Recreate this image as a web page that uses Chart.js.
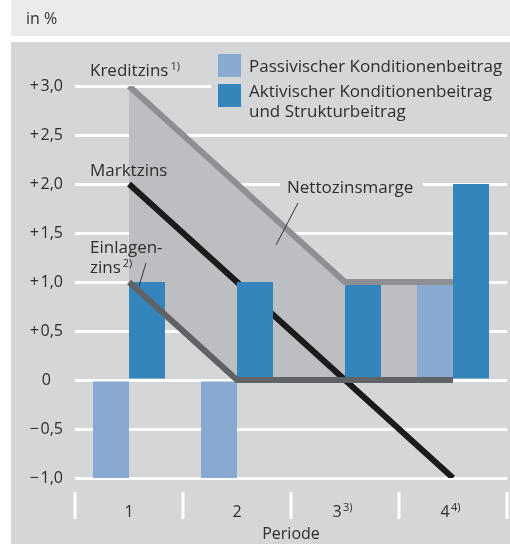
<!DOCTYPE html>
<html><head><meta charset="utf-8">
<script src="https://cdn.jsdelivr.net/npm/chart.js@4/dist/chart.umd.min.js"></script>
<style>html,body{margin:0;padding:0;background:#fff}canvas{display:block}</style>
</head><body>
<canvas id="c" width="510" height="544"></canvas>
<script>
// ---- data ----
const categories = ['1', '2', '3', '4'];
const xTickLabels = ['1', '2', '3\u2003', '4\u2003'];
const xTickNotes = ['', '', '3)', '4)'];
const passivValues = [-1, -1, 0, 1];
const aktivValues = [1, 1, 1, 2];
const kreditzins = [3, 2, 1, 1];
const marktzins = [2, 1, 0, -1];
const einlagenzins = [1, 0, 0, 0];
const yTickValues = [-1, -0.5, 0, 0.5, 1, 1.5, 2, 2.5, 3];
const yTickLabels = ['\u2212\u200a1,0', '\u2212\u200a0,5', '0', '+\u200a0,5', '+\u200a1,0', '+\u200a1,5', '+\u200a2,0', '+\u200a2,5', '+\u200a3,0'];

// ---- styles ----
const FONT = '"Open Sans", "Noto Sans", sans-serif';
const TEXT = '#2e2e2e';
const PANEL = '#d5d6d8';
const BAND = '#ebebed';
const LIGHT = '#88a9d0';
const DARK = '#3585bd';
const AREA = '#bdbec2';

function sup(ctx, base, note, x, y, size) {
  ctx.font = size + 'px ' + FONT;
  ctx.fillText(base, x, y);
  const w = ctx.measureText(base).width;
  ctx.font = '11px ' + FONT;
  ctx.fillText(note, x + w + 2, y - 6);
  ctx.font = size + 'px ' + FONT;
}

const deco = {
  id: 'deco',
  beforeDraw(chart) {
    const c = chart.ctx; c.save();
    c.fillStyle = '#ffffff'; c.fillRect(0, 0, 510, 544);
    c.fillStyle = BAND; c.fillRect(11, 0, 499, 36);
    c.fillStyle = PANEL; c.fillRect(11, 42, 499, 502);
    c.restore();
  },
  beforeDatasetsDraw(chart) {
    const c = chart.ctx; c.save();
    c.fillStyle = PANEL;
    c.fillRect(211, 45, 299, 80);
    c.fillRect(280, 176, 143, 22);
    c.restore();
  },
  afterDraw(chart) {
    const c = chart.ctx; const xs = chart.scales.x;
    c.save();
    // category separators
    c.strokeStyle = '#ffffff'; c.lineWidth = 3;
    for (let i = 0; i <= categories.length; i++) {
      const px = Math.round(xs.getPixelForValue(i - 0.5));
      c.beginPath(); c.moveTo(px, 492); c.lineTo(px, 519); c.stroke();
    }
    // superscript notes on x labels
    c.fillStyle = TEXT; c.textBaseline = 'alphabetic'; c.textAlign = 'left';
    c.font = '11px ' + FONT;
    for (let i = 0; i < categories.length; i++) {
      if (!xTickNotes[i]) continue;
      const px = xs.getPixelForValue(i);
      c.fillText(xTickNotes[i], px - 2, 511);
    }
    // in %
    c.font = '16px ' + FONT; c.fillText('in %', 26, 24);
    // series labels
    sup(c, 'Kreditzins', '1)', 90, 76, 17);
    c.fillText('Marktzins', 90, 176);
    c.fillText('Einlagen-', 90, 253);
    sup(c, 'zins', '2)', 90, 273, 17);
    c.fillText('Nettozinsmarge', 287, 193);
    // leaders
    c.strokeStyle = '#333'; c.lineWidth = 1;
    c.beginPath(); c.moveTo(146, 263); c.lineTo(139, 286); c.stroke();
    c.beginPath(); c.moveTo(298, 203); c.lineTo(276, 245); c.stroke();
    // legend
    c.fillStyle = LIGHT; c.fillRect(218, 54, 23, 23);
    c.fillStyle = DARK; c.fillRect(218, 84, 23, 23);
    c.fillStyle = TEXT; c.font = '17px ' + FONT;
    c.fillText('Passivischer Konditionenbeitrag', 249, 72);
    c.fillText('Aktivischer Konditionenbeitrag', 249, 97);
    c.fillText('und Strukturbeitrag', 249, 117);
    c.restore();
  }
};

new Chart(document.getElementById('c'), {
  type: 'bar',
  data: {
    labels: categories,
    datasets: [
      { type: 'bar', label: 'Passivischer Konditionenbeitrag', data: passivValues, backgroundColor: LIGHT, order: 2 },
      { type: 'bar', label: 'Aktivischer Konditionenbeitrag und Strukturbeitrag', data: aktivValues, backgroundColor: DARK, order: 2 },
      { type: 'line', label: 'Kreditzins', data: kreditzins, borderColor: '#8e8f92', borderWidth: 6, pointRadius: 0, tension: 0,
        fill: { target: 3 }, backgroundColor: AREA, order: 0 },
      { type: 'line', label: 'Einlagenzins', data: einlagenzins, borderColor: '#616265', borderWidth: 6, pointRadius: 0, tension: 0, fill: false, order: 1 },
      { type: 'line', label: 'Marktzins', data: marktzins, borderColor: '#1c1a1a', borderWidth: 6, pointRadius: 0, tension: 0, fill: false, order: 3 }
    ]
  },
  options: {
    responsive: false,
    animation: false,
    layout: { padding: { left: 0, right: 3, top: 86, bottom: 0 } },
    datasets: { bar: { categoryPercentage: 0.667, barPercentage: 1.0, borderWidth: 0 } },
    plugins: {
      legend: { display: false }, tooltip: { enabled: false },
      filler: { drawTime: 'beforeDatasetsDraw' }
    },
    scales: {
      x: {
        offset: true,
        grid: { display: false },
        border: { display: false },
        ticks: { color: TEXT, font: { family: FONT, size: 16 }, padding: 17,
          callback: (v, i) => xTickLabels[i] },
        title: { display: true, text: 'Periode', color: TEXT, font: { family: FONT, size: 16 }, padding: { top: 0, bottom: 0 } },
        afterFit: s => { s.height = 66; }
      },
      y: {
        min: -1, max: 3,
        afterBuildTicks: s => { s.ticks = yTickValues.map(v => ({ value: v })); },
        grid: { color: '#ffffff', lineWidth: 3, drawTicks: false },
        border: { display: false },
        ticks: { color: TEXT, font: { family: FONT, size: 16 }, padding: 12, crossAlign: 'center',
          callback: v => yTickLabels[yTickValues.indexOf(v)] },
        afterFit: s => { s.width = 75; }
      }
    }
  },
  plugins: [deco]
});
</script>
</body></html>
